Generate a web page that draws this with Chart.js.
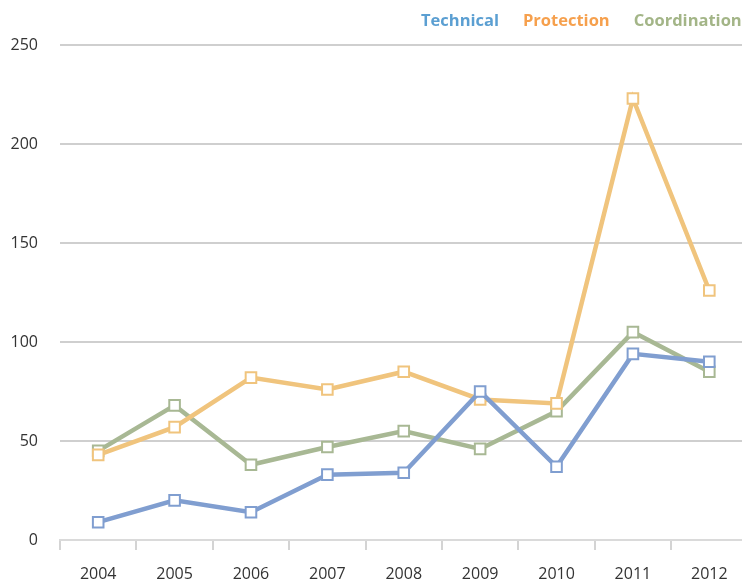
<!DOCTYPE html>
<html>
<head>
<meta charset="utf-8">
<script src="https://cdn.jsdelivr.net/npm/chart.js@4.4.1/dist/chart.umd.min.js"></script>
<style>
  html, body { margin: 0; padding: 0; background: #fff; overflow: hidden; }
  canvas { display: block; }
</style>
</head>
<body>
<canvas id="lines" width="757" height="581" style="width:757px;height:581px"></canvas>
<script>
var years = ['2004', '2005', '2006', '2007', '2008', '2009', '2010', '2011', '2012'];
var technical = [9, 20, 14, 33, 34, 75, 37, 94, 90];
var protection = [43, 57, 82, 76, 85, 71, 69, 223, 126];
var coordination = [45, 68, 38, 47, 55, 46, 65, 105, 85];
var yTicks = [0, 50, 100, 150, 200, 250];

// text legend in the top right corner, no swatches
var textLegend = {
  id: 'textLegend',
  afterDraw: function(chart) {
    var ctx = chart.ctx;
    var colors = ['#5b9fd2', '#f6a04d', '#a3b587'];
    ctx.save();
    ctx.font = 'bold 16.5px "Open Sans"';
    ctx.textBaseline = 'middle';
    ctx.textAlign = 'left';
    var x = 421;
    chart.data.datasets.forEach(function(ds, i) {
      ctx.fillStyle = colors[i];
      ctx.fillText(ds.label, x, 21);
      x += ctx.measureText(ds.label).width + 24;
    });
    ctx.restore();
  }
};

function series(label, data, color) {
  return {
    label: label,
    data: data,
    borderColor: color,
    borderWidth: 4.5,
    tension: 0,
    pointStyle: 'rect',
    pointRadius: 7.5,
    pointBorderWidth: 2,
    pointBackgroundColor: '#fff',
    pointBorderColor: color
  };
}

var ctx = document.getElementById('lines').getContext('2d');
var lineChart = new Chart(ctx, {
  type: 'line',
  data: {
    labels: years,
    datasets: [
      series('Technical', technical, 'rgb(128,158,208)'),
      series('Protection', protection, 'rgb(240,196,125)'),
      series('Coordination', coordination, 'rgb(168,184,148)')
    ]
  },
  options: {
    responsive: false,
    animation: false,
    layout: { padding: { top: 45, right: 2, left: 0, bottom: 0 } },
    plugins: {
      legend: { display: false },
      tooltip: { enabled: false }
    },
    scales: {
      x: {
        offset: true,
        afterFit: function(axis) { axis.height = 41; },
        grid: {
          offset: true,
          drawOnChartArea: false,
          drawTicks: true,
          tickLength: 10,
          color: '#d4d4d4',
          lineWidth: 2
        },
        border: { color: '#dadada', width: 2 },
        ticks: {
          color: '#333',
          padding: 15,
          maxRotation: 0,
          font: { family: 'Open Sans', size: 16 }
        }
      },
      y: {
        min: 0,
        max: 250,
        afterFit: function(axis) { axis.width = 60; },
        afterBuildTicks: function(axis) {
          axis.ticks = yTicks.map(function(v) { return { value: v }; });
        },
        grid: {
          drawTicks: false,
          color: function(c) { return c.tick.value === 0 ? 'rgba(0,0,0,0)' : '#cfcfcf'; },
          lineWidth: 2
        },
        border: { display: false },
        ticks: {
          color: '#333',
          padding: 22,
          font: { family: 'Open Sans', size: 16 }
        }
      }
    }
  },
  plugins: [textLegend]
});
</script>
</body>
</html>
